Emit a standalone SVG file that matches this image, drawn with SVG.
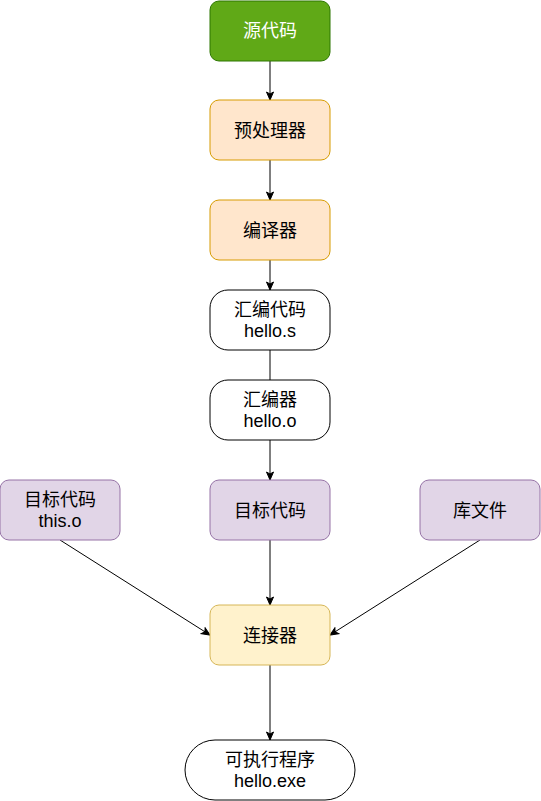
<svg xmlns="http://www.w3.org/2000/svg" width="541" height="801" viewBox="0 0 541 801">
<defs>
<marker id="arr" markerWidth="10" markerHeight="10" refX="9" refY="5" orient="auto" markerUnits="userSpaceOnUse">
<path d="M1,1.5 L9,5 L1,8.5 L3,5 Z" fill="#000" stroke="#000" stroke-width="1"/>
</marker>
<style>
text{font-family:"Liberation Sans","Noto Sans CJK SC",sans-serif;font-size:18px;text-anchor:middle;dominant-baseline:central;fill:#000}
.green{fill:#60a917;stroke:#2d7600}
.orange{fill:#ffe6cc;stroke:#d79b00}
.white{fill:#fff;stroke:#000}
.purple{fill:#e1d5e7;stroke:#9673a6}
.yellow{fill:#fff2cc;stroke:#d6b656}
rect{stroke-width:1}
.edge{stroke:#000;stroke-width:1;fill:none}
</style>
</defs>
<rect width="541" height="801" fill="#fff"/>
<g id="edges">
<line class="edge" x1="270" y1="61" x2="270" y2="100" marker-end="url(#arr)"/>
<line class="edge" x1="270" y1="160" x2="270" y2="200" marker-end="url(#arr)"/>
<line class="edge" x1="270" y1="260" x2="270" y2="290" marker-end="url(#arr)"/>
<line class="edge" x1="270" y1="350" x2="270" y2="380"/>
<line class="edge" x1="270" y1="440" x2="270" y2="480" marker-end="url(#arr)"/>
<line class="edge" x1="270" y1="540" x2="270" y2="605" marker-end="url(#arr)"/>
<line class="edge" x1="60" y1="540" x2="210" y2="635" marker-end="url(#arr)"/>
<line class="edge" x1="480" y1="540" x2="330" y2="635" marker-end="url(#arr)"/>
<line class="edge" x1="270" y1="665" x2="270" y2="740" marker-end="url(#arr)"/>
</g>
<g id="source"><rect class="green" x="210" y="1" width="120" height="60" rx="9"/><text x="270" y="31" style="fill:#fff">源代码</text></g>
<g id="preprocessor"><rect class="orange" x="210" y="100" width="120" height="60" rx="9"/><text x="270" y="131">预处理器</text></g>
<g id="compiler"><rect class="orange" x="210" y="200" width="120" height="60" rx="9"/><text x="270" y="231">编译器</text></g>
<g id="asm"><rect class="white" x="210" y="290" width="120" height="60" rx="18"/><text x="270" y="310">汇编代码</text><text x="270" y="331">hello.s</text></g>
<g id="assembler"><rect class="white" x="210" y="380" width="120" height="60" rx="18"/><text x="270" y="400">汇编器</text><text x="270" y="421">hello.o</text></g>
<g id="obj_this"><rect class="purple" x="0" y="480" width="120" height="60" rx="9"/><text x="60" y="500">目标代码</text><text x="60" y="521">this.o</text></g>
<g id="obj"><rect class="purple" x="210" y="480" width="120" height="60" rx="9"/><text x="270" y="511">目标代码</text></g>
<g id="lib"><rect class="purple" x="420" y="480" width="120" height="60" rx="9"/><text x="480" y="511">库文件</text></g>
<g id="linker"><rect class="yellow" x="210" y="605" width="120" height="60" rx="9"/><text x="270" y="636">连接器</text></g>
<g id="exe"><rect class="white" x="185" y="740" width="170" height="60" rx="30"/><text x="270" y="760">可执行程序</text><text x="270" y="781">hello.exe</text></g>
</svg>
